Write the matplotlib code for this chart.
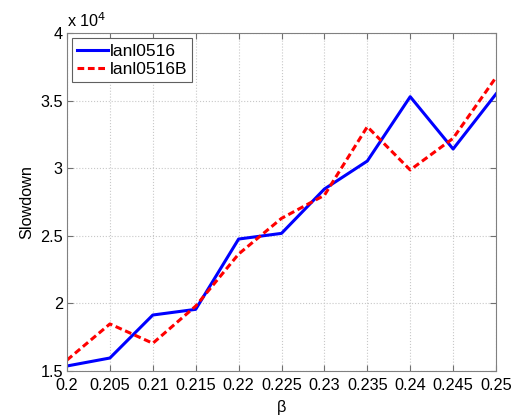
import matplotlib
matplotlib.use("Agg")
import matplotlib.pyplot as plt
from matplotlib.ticker import FuncFormatter

beta = [0.2, 0.205, 0.21, 0.215, 0.22, 0.225, 0.23, 0.235, 0.24, 0.245, 0.25]
lanl0516 = [15370, 15960, 19140, 19560, 24760, 25180, 28460, 30530, 35290, 31420, 35490]
lanl0516B = [15810, 18480, 17050, 19800, 23650, 26290, 28000, 33070, 29870, 32210, 36720]
xticks = [0.2, 0.205, 0.21, 0.215, 0.22, 0.225, 0.23, 0.235, 0.24, 0.245, 0.25]
xticklabels = ["0.2", "0.205", "0.21", "0.215", "0.22", "0.225", "0.23", "0.235", "0.24", "0.245", "0.25"]
yticks = [15000, 20000, 25000, 30000, 35000, 40000]
scale = 1e4

plt.rcParams['font.family'] = ['Liberation Sans', 'DejaVu Sans']
plt.rcParams['font.size'] = 11.7

fig = plt.figure(figsize=(5.17, 4.2), dpi=100)
ax = fig.add_axes([0.1296, 0.1167, 0.9594 - 0.1296, 0.9214 - 0.1167])

ax.plot(beta, lanl0516, color='#0000ff', lw=2.2, label='lanl0516')
ax.plot(beta, lanl0516B, color='#ff0000', lw=2.2, ls=(0, (2.2, 1.2)), label='lanl0516B')

ax.set_xlim(0.2, 0.25)
ax.set_ylim(15000, 40000)
ax.set_xticks(xticks)
ax.set_xticklabels(xticklabels)
ax.set_yticks(yticks)
ax.yaxis.set_major_formatter(FuncFormatter(lambda v, p: f"{v/scale:g}"))
ax.grid(True, color='#c8c8c8', ls=':', lw=0.8)
ax.tick_params(direction='in', top=True, right=True, length=4, color='#707070')
ax.tick_params(axis='x', pad=5)
ax.tick_params(axis='y', pad=3)
for s in ax.spines.values():
    s.set_color('#808080')
    s.set_linewidth(0.8)

ax.text(0.0, 1.008, r"x 10$^{4}$", transform=ax.transAxes, ha='left', va='bottom', fontsize=11.7)
ax.set_xlabel('β', labelpad=5)
ax.set_ylabel('Slowdown', labelpad=4)

leg = ax.legend(loc='upper left', fancybox=False, framealpha=1, edgecolor='#606060',
                fontsize=12.5,
                handlelength=1.75, handletextpad=0.1, borderpad=0.3, labelspacing=0.2,
                borderaxespad=0.3)
leg.get_frame().set_linewidth(0.8)

fig.savefig('out.png', dpi=100)
